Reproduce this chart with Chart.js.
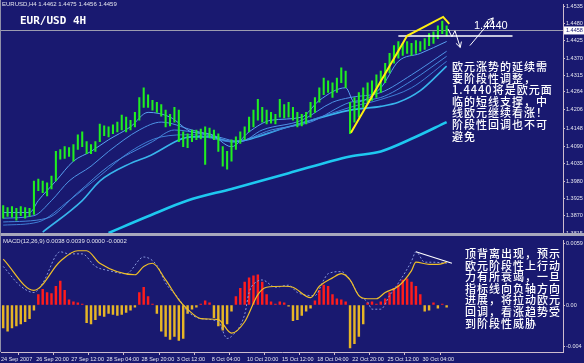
<!DOCTYPE html>
<html>
<head>
<meta charset="utf-8">
<script src="https://cdn.jsdelivr.net/npm/chart.js@4.4.1/dist/chart.umd.min.js"></script>
<style>
html, body { margin: 0; padding: 0; background: #191970; }
#wrap { position: relative; width: 584px; height: 363px; overflow: hidden; background: #191970; font-family: "Liberation Sans", Arial, sans-serif; }
canvas { position: absolute; left: 0; }
#main { top: 0; }
#macd { top: 236px; }
.sep { position: absolute; left: 0; top: 233px; width: 584px; height: 3px; background: #a8a8bc; z-index: 2; }
.lborder { position: absolute; left: 0; top: 0; width: 1px; height: 352px; background: #9090a8; z-index: 2; }
.small { position: absolute; color: #e4e4ee; font-size: 6px; white-space: nowrap; z-index: 3; }
.title { position: absolute; left: 20px; top: 14px; color: #fff; font: bold 11px "DejaVu Sans Mono", monospace; z-index: 3; }
.lvl { position: absolute; left: 474px; top: 19px; color: #fff; font: 11px "Liberation Sans", Arial, sans-serif; z-index: 3; }
.note { position: absolute; color: #fff; font: 500 11px/11.6px "Noto Sans CJK SC", sans-serif; letter-spacing: 1px; white-space: nowrap; z-index: 3; }
</style>
</head>
<body>
<div id="wrap">
  <canvas id="main" width="584" height="238"></canvas>
  <canvas id="macd" width="584" height="127"></canvas>
  <div class="sep"></div>
  <div class="lborder"></div>
  <div class="small" style="left:2px;top:1px;">EURUSD,H4 1.4462 1.4475 1.4456 1.4459</div>
  <div class="title">EUR/USD 4H</div>
  <div class="lvl">1.4440</div>
  <div class="note" style="left:452px;top:61px;">欧元涨势的延续需<br>要阶段性调整，<br>1.4440将是欧元面<br>临的短线支撑，中<br>线欧元继续看涨！<br>阶段性回调也不可<br>避免</div>
  <div class="small" style="left:3px;top:238px;">MACD(12,26,9) 0.0038 0.0039 0.0000 -0.0002</div>
  <div class="note" style="left:465px;top:248px;">顶背离出现，预示<br>欧元阶段性上行动<br>力有所衰竭，一旦<br>指标线向负轴方向<br>进展，将拉动欧元<br>回调，看涨趋势受<br>到阶段性威胁</div>
</div>
<script>
// time axis labels (one every 8 bars)
const dateLabels = ['24 Sep 2007', '26 Sep 20:00', '27 Sep 12:00', '28 Sep 04:00', '28 Sep 20:00', '3 Oct 12:00',
  '8 Oct 04:00', '10 Oct 20:00', '15 Oct 12:00', '18 Oct 04:00', '22 Oct 20:00', '25 Oct 12:00', '30 Oct 04:00'];
const priceTickLabels = ['1.4535', '1.4480', '1.4425', '1.4370', '1.4315', '1.4264', '1.4206', '1.4148',
  '1.4090', '1.4035', '1.3980', '1.3925', '1.3870', '1.3815'];
const macdTickLabels = ['0.0059', '0.00', '-0.004'];
const lastPrice = 1.4458;

// H4 bars, high / low
const barHigh = [1.3902, 1.3896, 1.3899, 1.3893, 1.3899, 1.3896, 1.3893, 1.3980, 1.3986, 1.3980,
  1.3974, 1.3996, 1.4074, 1.4080, 1.4089, 1.4086, 1.4096, 1.4127, 1.4136, 1.4105,
  1.4096, 1.4105, 1.4161, 1.4155, 1.4152, 1.4158, 1.4167, 1.4189, 1.4183, 1.4173,
  1.4198, 1.4245, 1.4276, 1.4254, 1.4236, 1.4230, 1.4223, 1.4205, 1.4192, 1.4214,
  1.4205, 1.4136, 1.4130, 1.4142, 1.4142, 1.4145, 1.4152, 1.4148, 1.4142, 1.4130,
  1.4089, 1.4074, 1.4111, 1.4120, 1.4136, 1.4152, 1.4183, 1.4205, 1.4239, 1.4214,
  1.4205, 1.4198, 1.4192, 1.4239, 1.4223, 1.4230, 1.4214, 1.4198, 1.4192, 1.4198,
  1.4230, 1.4245, 1.4276, 1.4307, 1.4298, 1.4292, 1.4307, 1.4339, 1.4329, 1.4230,
  1.4245, 1.4261, 1.4276, 1.4292, 1.4298, 1.4317, 1.4329, 1.4354, 1.4385, 1.4410,
  1.4423, 1.4417, 1.4423, 1.4417, 1.4426, 1.4423, 1.4432, 1.4448, 1.4454, 1.4473,
  1.4488, 1.4473];
const barLow = [1.3862, 1.3868, 1.3865, 1.3856, 1.3870, 1.3862, 1.3868, 1.3874, 1.3949, 1.3943,
  1.3933, 1.3955, 1.3980, 1.4049, 1.4052, 1.4058, 1.4043, 1.4080, 1.4089, 1.4067,
  1.4067, 1.4074, 1.4105, 1.4124, 1.4120, 1.4130, 1.4136, 1.4142, 1.4136, 1.4142,
  1.4152, 1.4173, 1.4214, 1.4214, 1.4205, 1.4198, 1.4186, 1.4152, 1.4155, 1.4167,
  1.4105, 1.4089, 1.4086, 1.4105, 1.4111, 1.4114, 1.4033, 1.4117, 1.4111, 1.4074,
  1.4027, 1.4018, 1.4043, 1.4080, 1.4099, 1.4111, 1.4136, 1.4152, 1.4173, 1.4167,
  1.4161, 1.4164, 1.4161, 1.4183, 1.4180, 1.4183, 1.4173, 1.4152, 1.4155, 1.4161,
  1.4183, 1.4198, 1.4230, 1.4254, 1.4261, 1.4245, 1.4261, 1.4292, 1.4276, 1.4130,
  1.4167, 1.4183, 1.4214, 1.4230, 1.4236, 1.4245, 1.4261, 1.4292, 1.4323, 1.4354,
  1.4370, 1.4379, 1.4385, 1.4379, 1.4385, 1.4392, 1.4398, 1.4410, 1.4417, 1.4432,
  1.4448, 1.4441];

// moving averages (bar index, price)
const maFastIdx = [0, 6, 8, 12, 16, 20, 24, 29, 33, 38, 43, 47, 52, 56, 61, 68, 72, 78, 80, 86, 90, 95, 101];
const maFastVal = [1.3880, 1.3880, 1.3918, 1.3980, 1.4043, 1.4074, 1.4111, 1.4152, 1.4198, 1.4183, 1.4136, 1.4130,
  1.4089, 1.4136, 1.4173, 1.4183, 1.4236, 1.4276, 1.4230, 1.4276, 1.4360, 1.4385, 1.4423];
const maMidIdx = [0, 7, 11, 15, 20, 24, 31, 36, 43, 49, 54, 59, 68, 75, 79, 86, 93, 101];
const maMidVal = [1.3862, 1.3870, 1.3918, 1.3980, 1.4027, 1.4074, 1.4142, 1.4167, 1.4142, 1.4120, 1.4105, 1.4142,
  1.4173, 1.4230, 1.4245, 1.4261, 1.4317, 1.4392];
const maMid2Idx = [0, 10, 17, 24, 34, 39, 45, 53, 61, 70, 79, 86, 93, 101];
const maMid2Val = [1.3850, 1.3862, 1.3943, 1.4027, 1.4105, 1.4142, 1.4130, 1.4105, 1.4142, 1.4167, 1.4230, 1.4245,
  1.4298, 1.4376];
const maSlowIdx = [0, 8, 15, 22, 29, 36, 43, 52, 61, 70, 79, 86, 93, 101];
const maSlowVal = [1.3840, 1.3850, 1.3918, 1.3996, 1.4074, 1.4120, 1.4127, 1.4105, 1.4136, 1.4173, 1.4214, 1.4239,
  1.4276, 1.4360];
const maCyanIdx = [9, 18, 22, 29, 33, 43, 47, 52, 65, 79, 86, 90, 95, 101];
const maCyanVal = [1.3818, 1.3918, 1.3980, 1.4036, 1.4058, 1.4120, 1.4120, 1.4105, 1.4152, 1.4205, 1.4217, 1.4230,
  1.4267, 1.4345];
const maLongIdx = [24, 33, 42, 52, 65, 79, 86, 93, 101];
const maLongVal = [1.3815, 1.3868, 1.3918, 1.3955, 1.4005, 1.4058, 1.4074, 1.4114, 1.4167];

// hand-drawn marks
const trendIdx = [79.2, 92, 100.2, 101.6];
const trendVal = [1.4133, 1.4441, 1.4501, 1.4479];
const supportIdx = [90, 116];
const supportVal = [1.4440, 1.4440];
const arrowDownIdx = [101.3, 102.2, 102.9, 104.1];
const arrowDownVal = [1.4463, 1.4438, 1.4457, 1.4404];
const arrowUpIdx = [106.3, 111.6];
const arrowUpVal = [1.4410, 1.4498];

// MACD panel
const macdHist = [-0.0022, -0.0025, -0.0022, -0.0020, -0.0018, -0.0016, -0.0013, -0.0005, 0.0010, 0.0015,
  0.0012, 0.0011, 0.0018, 0.0023, 0.0014, 0.0005, 0.0003, 0.0002, 0.0001, -0.0017,
  -0.0018, -0.0014, -0.0010, -0.0011, -0.0008, -0.0009, -0.0010, -0.0009, -0.0007, -0.0005,
  -0.0002, 0.0012, 0.0017, 0.0008, 0.0001, -0.0008, -0.0025, -0.0030, -0.0033, -0.0030,
  -0.0034, -0.0032, -0.0008, -0.0004, -0.0002, 0.0001, 0.0004, 0.0002, -0.0012, -0.0020,
  -0.0024, -0.0018, -0.0006, 0.0008, 0.0016, 0.0022, 0.0026, 0.0028, 0.0029, 0.0022,
  0.0010, 0.0003, 0.0001, 0.0003, 0.0002, -0.0001, -0.0015, -0.0014, -0.0010, -0.0006,
  -0.0003, 0.0004, 0.0014, 0.0019, 0.0018, 0.0010, 0.0006, 0.0005, 0.0003, -0.0041,
  -0.0037, -0.0030, -0.0018, 0.0002, 0.0003, 0.0001, 0.0003, 0.0006, 0.0012, 0.0016,
  0.0019, 0.0024, 0.0025, 0.0022, 0.0018, 0.0010, -0.0006, -0.0005, 0.0002, -0.0003,
  0.0001, -0.0002];
const macdMainIdx = [0, 7, 13, 17, 19, 22, 30, 32, 34, 37, 40, 42, 45, 49, 52, 55, 58, 60, 64, 66,
  70, 72, 75, 77, 79, 81, 83, 85, 87, 90, 93, 94, 97, 99, 101];
const macdMainVal = [0.0044, 0.0014, 0.0042, 0.0052, 0.0052, 0.0040, 0.0029, 0.0037, 0.0040, 0.0024,
  0.0005, -0.0004, -0.0013, -0.0014, -0.0027, -0.0016, 0.0010, 0.0017, 0.0018, 0.0017,
  0.0007, 0.0018, 0.0026, 0.0030, 0.0024, 0.0009, 0.0006, 0.0006, 0.0012, 0.0018,
  0.0033, 0.0041, 0.0039, 0.0039, 0.0041];
const macdSignalIdx = [0, 4, 7, 9, 13, 15, 18, 21, 24, 28, 32, 35, 37, 40, 42, 45, 49, 51, 52, 55,
  56, 58, 59, 62, 65, 67, 71, 73, 74, 77, 79, 81, 83, 84, 86, 88, 90, 93, 94, 96, 98, 101];
const macdSignalVal = [0.0037, 0.0018, 0.0012, 0.0021, 0.0051, 0.0049, 0.0049, 0.0037, 0.0033, 0.0030,
  0.0046, 0.0038, 0.0021, 0.0006, -0.0006, -0.0013, -0.0016, -0.0032, -0.0030, -0.0009,
  0.0012, 0.0023, 0.0024, 0.0017, 0.0019, 0.0012, 0.0009, 0.0024, 0.0030, 0.0032,
  0.0024, 0.0009, 0.0003, -0.0004, -0.0004, 0.0009, 0.0021, 0.0042, 0.0051, 0.0041,
  0.0041, 0.0040];
const divIdx = [94, 102.2];
const divVal = [0.0051, 0.0040];

const X_MIN = -0.5, X_MAX = 127.5;
const AXIS_COLOR = '#cdbccd';
const TEXT_COLOR = '#e4e4ee';
const tinyFont = { family: '"Liberation Sans", Arial, sans-serif', size: 5.5 };

const pts = (idx, val) => idx.map((x, i) => ({ x: x, y: val[i] }));
const ln = (idx, val, color, width, order, extra) => Object.assign({
  type: 'line', data: pts(idx, val), borderColor: color, borderWidth: width,
  pointRadius: 0, fill: false, cubicInterpolationMode: 'monotone', order: order
}, extra || {});

function drawArrow(ctx, xs, ys, idx, val) {
  const p = idx.map((v, i) => [xs.getPixelForValue(v), ys.getPixelForValue(val[i])]);
  ctx.beginPath();
  p.forEach((q, i) => i ? ctx.lineTo(q[0], q[1]) : ctx.moveTo(q[0], q[1]));
  ctx.stroke();
  const a = p[p.length - 1], b = p[p.length - 2];
  const ang = Math.atan2(a[1] - b[1], a[0] - b[0]);
  ctx.beginPath();
  ctx.moveTo(a[0] - 6 * Math.cos(ang - 0.5), a[1] - 6 * Math.sin(ang - 0.5));
  ctx.lineTo(a[0], a[1]);
  ctx.lineTo(a[0] - 6 * Math.cos(ang + 0.5), a[1] - 6 * Math.sin(ang + 0.5));
  ctx.stroke();
}

const mainOverlay = {
  id: 'mainOverlay',
  beforeDatasetsDraw(chart) {
    const { ctx, chartArea, scales } = chart;
    const y = Math.round(scales.y.getPixelForValue(lastPrice)) + 0.5;
    ctx.save();
    ctx.strokeStyle = '#9c9cb0';
    ctx.lineWidth = 1;
    ctx.beginPath();
    ctx.moveTo(chartArea.left, y);
    ctx.lineTo(chartArea.right, y);
    ctx.stroke();
    ctx.restore();
  },
  afterDraw(chart) {
    const { ctx, chartArea, scales } = chart;
    ctx.save();
    ctx.strokeStyle = '#ffffff';
    ctx.lineWidth = 1;
    drawArrow(ctx, scales.x, scales.y, arrowDownIdx, arrowDownVal);
    drawArrow(ctx, scales.x, scales.y, arrowUpIdx, arrowUpVal);
    const y = scales.y.getPixelForValue(lastPrice);
    ctx.fillStyle = '#ffffff';
    ctx.fillRect(chartArea.right + 1, y - 4, 20, 8);
    ctx.fillStyle = '#191970';
    ctx.font = '5.5px "Liberation Sans", Arial, sans-serif';
    ctx.textBaseline = 'middle';
    ctx.fillText(lastPrice.toFixed(4), chartArea.right + 3, y);
    ctx.restore();
  }
};

new Chart(document.getElementById('main'), {
  type: 'bar',
  data: {
    datasets: [
      ln(trendIdx, trendVal, '#ffee10', 2, 0, { cubicInterpolationMode: 'default', tension: 0 }),
      ln(supportIdx, supportVal, '#ffffff', 1.5, 0, { tension: 0 }),
      {
        type: 'bar', data: barHigh.map((h, i) => ({ x: i, y: [barLow[i], h] })),
        backgroundColor: '#20ee20', barThickness: 1.4, grouped: false, order: 1
      },
      ln(maFastIdx, maFastVal, '#5aa2f0', 1, 2),
      ln(maMidIdx, maMidVal, '#4f94e6', 1, 3),
      ln(maMid2Idx, maMid2Val, '#4688dc', 1, 4),
      ln(maSlowIdx, maSlowVal, '#3f7fd6', 1, 5),
      ln(maCyanIdx, maCyanVal, '#38b4ec', 1.6, 6),
      ln(maLongIdx, maLongVal, '#1ec8f0', 2.6, 7)
    ]
  },
  options: {
    responsive: false,
    animation: false,
    layout: { padding: { left: 1, top: 0, right: 0, bottom: 5 } },
    plugins: { legend: { display: false }, tooltip: { enabled: false } },
    scales: {
      x: { type: 'linear', min: X_MIN, max: X_MAX, display: false, offset: false },
      y: {
        position: 'right', min: 1.3815, max: 1.4541,
        afterFit: s => { s.width = 21; },
        afterBuildTicks: s => { s.ticks = priceTickLabels.map(t => ({ value: +t })); },
        ticks: {
          autoSkip: false, color: TEXT_COLOR, font: tinyFont, padding: 1, crossAlign: 'near',
          callback: (v, i) => priceTickLabels[i]
        },
        grid: { drawOnChartArea: false, tickLength: 2, color: AXIS_COLOR },
        border: { color: AXIS_COLOR }
      }
    }
  },
  plugins: [mainOverlay]
});

new Chart(document.getElementById('macd'), {
  type: 'bar',
  data: {
    datasets: [
      ln(divIdx, divVal, '#ffffff', 1.2, 0, { tension: 0 }),
      ln(macdMainIdx, macdMainVal, '#f0c028', 1.2, 1),
      ln(macdSignalIdx, macdSignalVal, '#8898dc', 1, 2, { borderDash: [2, 2] }),
      {
        type: 'bar', data: macdHist.map((v, i) => ({ x: i, y: v })),
        backgroundColor: macdHist.map(v => v >= 0 ? '#ff1c1c' : '#e6b526'),
        barThickness: 1.8, grouped: false, order: 3
      }
    ]
  },
  options: {
    responsive: false,
    animation: false,
    layout: { padding: { left: 1, top: 0, right: 0, bottom: 0 } },
    plugins: { legend: { display: false }, tooltip: { enabled: false } },
    scales: {
      x: {
        type: 'linear', min: X_MIN, max: X_MAX, offset: false,
        afterFit: s => { s.height = 11; },
        afterBuildTicks: s => { s.ticks = dateLabels.map((d, k) => ({ value: k * 8 - 0.5 })); },
        ticks: {
          autoSkip: false, maxRotation: 0, align: 'start', padding: 1, color: TEXT_COLOR, font: tinyFont,
          callback: (v, i) => dateLabels[i]
        },
        grid: { drawOnChartArea: false, tickLength: 3, color: AXIS_COLOR },
        border: { color: AXIS_COLOR }
      },
      y: {
        position: 'right', min: -0.0045, max: 0.0062,
        afterFit: s => { s.width = 21; },
        afterBuildTicks: s => { s.ticks = macdTickLabels.map(t => ({ value: +t })); },
        ticks: {
          autoSkip: false, color: TEXT_COLOR, font: tinyFont, padding: 1, crossAlign: 'near',
          callback: (v, i) => macdTickLabels[i]
        },
        grid: { drawOnChartArea: false, tickLength: 2, color: AXIS_COLOR },
        border: { color: AXIS_COLOR }
      }
    }
  }
});
</script>
</body>
</html>
